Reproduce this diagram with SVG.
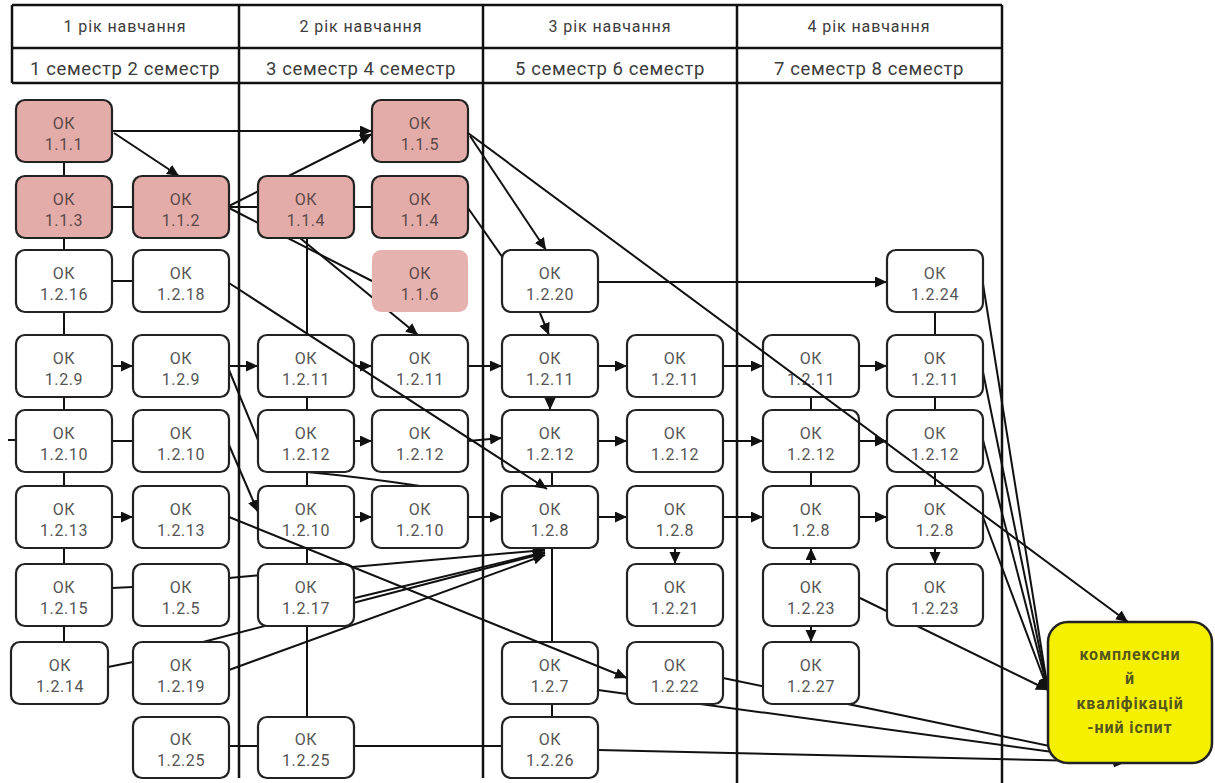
<svg xmlns="http://www.w3.org/2000/svg" width="1215" height="783" viewBox="0 0 1215 783">
<defs>
<marker id="ah" markerUnits="userSpaceOnUse" markerWidth="14" markerHeight="12" refX="12" refY="5.5" orient="auto"><path d="M0,0 L12,5.5 L0,11 z" fill="#111"/></marker>
<style>
.nd rect{fill:#fff;stroke:#222;stroke-width:2.2}
.pk rect{fill:#e3aca9}
.pk2 rect{fill:#e6b2af;stroke:none}
.nd text{font-family:Roboto,"Liberation Sans",sans-serif;font-size:16px;fill:#555;text-anchor:middle;letter-spacing:0.6px}
.pk text,.pk2 text{fill:#5c4848}
.hd line{stroke:#111;stroke-width:2.5}
.hd text{font-family:Roboto,"Liberation Sans",sans-serif;fill:#3c3c3c;text-anchor:middle}
.y1{font-size:16px;letter-spacing:0.9px}
.y2{font-size:18.5px;letter-spacing:0.6px}
.c line,.c path{stroke:#111;stroke-width:2;fill:none}
.c .a{marker-end:url(#ah)}
.ex rect{fill:#f4f000;stroke:#222;stroke-width:2.5}
.ex text{font-family:Roboto,"Liberation Sans",sans-serif;font-size:16px;font-weight:bold;fill:#56561c;text-anchor:middle;letter-spacing:0.9px}
</style>
</defs>
<rect width="1215" height="783" fill="#fff"/>

<g id="header" class="hd">
<line x1="12" y1="5" x2="1002" y2="5"/>
<line x1="12" y1="48" x2="1002" y2="48"/>
<line x1="12" y1="83" x2="1002" y2="83"/>
<line x1="12" y1="5" x2="12" y2="83"/>
<line x1="239" y1="5" x2="239" y2="778"/>
<line x1="483" y1="5" x2="483" y2="778"/>
<line x1="737" y1="5" x2="737" y2="783"/>
<line x1="1002" y1="5" x2="1002" y2="783"/>
<text class="y1" x="125" y="32">1 рік навчання</text>
<text class="y1" x="361" y="32">2 рік навчання</text>
<text class="y1" x="610" y="32">3 рік навчання</text>
<text class="y1" x="869" y="32">4 рік навчання</text>
<text class="y2" x="125" y="75">1 семестр 2 семестр</text>
<text class="y2" x="361" y="75">3 семестр 4 семестр</text>
<text class="y2" x="610" y="75">5 семестр 6 семестр</text>
<text class="y2" x="869" y="75">7 семестр 8 семестр</text>
</g>

<g id="connectors" class="c">
<line x1="64" y1="162" x2="64" y2="642"/>
<line x1="112" y1="207" x2="133" y2="207"/>
<line x1="112" y1="281" x2="133" y2="281"/>
<line x1="112" y1="441" x2="133" y2="441"/>
<line x1="112" y1="588" x2="133" y2="587"/>
<line x1="108" y1="667" x2="133" y2="662"/>
<line x1="8" y1="440" x2="16" y2="440"/>
<line x1="229" y1="207" x2="258" y2="207"/>
<line x1="229" y1="208" x2="372" y2="281"/>
<line x1="354" y1="207" x2="372" y2="207"/>
<line x1="307" y1="238" x2="307" y2="717"/>
<line x1="468" y1="208" x2="503" y2="258"/>
<line x1="229" y1="370" x2="258" y2="440"/>
<path d="M307,472 Q360,477 420,486"/>
<line x1="811" y1="397" x2="811" y2="486"/>
<line x1="935" y1="312" x2="935" y2="486"/>
<line x1="552" y1="472" x2="552" y2="486"/>
<line x1="552" y1="548" x2="552" y2="717"/>
<line x1="229" y1="746" x2="258" y2="746"/>
<line x1="354" y1="746" x2="502" y2="746"/>
<line class="a" x1="113" y1="131" x2="372" y2="131"/>
<line class="a" x1="114" y1="133" x2="179" y2="176"/>
<line class="a" x1="229" y1="206" x2="372" y2="134"/>
<line class="a" x1="470" y1="136" x2="546" y2="250"/>
<line class="a" x1="300" y1="238" x2="418" y2="335"/>
<line class="a" x1="598" y1="282" x2="887" y2="282"/>
<line class="a" x1="540" y1="313" x2="549" y2="335"/>
<line class="a" x1="112" y1="366" x2="133" y2="366"/>
<line class="a" x1="229" y1="366" x2="258" y2="366"/>
<line class="a" x1="354" y1="366" x2="372" y2="366"/>
<line class="a" x1="468" y1="366" x2="502" y2="366"/>
<line class="a" x1="598" y1="366" x2="627" y2="366"/>
<line class="a" x1="723" y1="366" x2="763" y2="366"/>
<line class="a" x1="859" y1="366" x2="887" y2="366"/>
<line class="a" x1="550" y1="397" x2="550" y2="410"/>
<line class="a" x1="229" y1="445" x2="258" y2="512"/>
<line class="a" x1="354" y1="441" x2="372" y2="441"/>
<line class="a" x1="468" y1="441" x2="502" y2="438"/>
<line class="a" x1="598" y1="441" x2="627" y2="441"/>
<line class="a" x1="723" y1="441" x2="763" y2="441"/>
<line class="a" x1="859" y1="441" x2="887" y2="441"/>
<line class="a" x1="112" y1="517" x2="133" y2="517"/>
<line class="a" x1="354" y1="517" x2="372" y2="517"/>
<line class="a" x1="468" y1="517" x2="502" y2="517"/>
<line class="a" x1="598" y1="517" x2="627" y2="517"/>
<line class="a" x1="723" y1="517" x2="763" y2="517"/>
<line class="a" x1="859" y1="517" x2="887" y2="517"/>
<line class="a" x1="229" y1="578" x2="545" y2="550"/>
<line class="a" x1="355" y1="598" x2="545" y2="552"/>
<line class="a" x1="203" y1="642" x2="545" y2="553"/>
<line class="a" x1="229" y1="670" x2="545" y2="555"/>
<line class="a" x1="675" y1="548" x2="675" y2="564"/>
<line class="a" x1="811" y1="564" x2="811" y2="548"/>
<line class="a" x1="811" y1="626" x2="811" y2="642"/>
<line class="a" x1="935" y1="548" x2="935" y2="564"/>
<line class="a" x1="860" y1="598" x2="1048" y2="690"/>
<line class="a" x1="983" y1="284" x2="1048" y2="690"/>
<line class="a" x1="983" y1="372" x2="1048" y2="690"/>
<line class="a" x1="983" y1="440" x2="1048" y2="690"/>
<line class="a" x1="983" y1="517" x2="1048" y2="690"/>
<line class="a" x1="598" y1="690" x2="1126" y2="762"/>
<line class="a" x1="723" y1="678" x2="1126" y2="762"/>
<line class="a" x1="598" y1="750" x2="1126" y2="762"/>
</g>

<g id="n-1-1-1" class="nd pk"><rect x="16" y="100" width="96" height="62" rx="9"/><text x="64" y="128.5">ОК</text><text x="64" y="149.5">1.1.1</text></g>
<g id="n-1-1-5" class="nd pk"><rect x="372" y="100" width="96" height="62" rx="9"/><text x="420" y="128.5">ОК</text><text x="420" y="149.5">1.1.5</text></g>
<g id="n-1-1-3" class="nd pk"><rect x="16" y="176" width="96" height="62" rx="9"/><text x="64" y="204.5">ОК</text><text x="64" y="225.5">1.1.3</text></g>
<g id="n-1-1-2" class="nd pk"><rect x="133" y="176" width="96" height="62" rx="9"/><text x="181" y="204.5">ОК</text><text x="181" y="225.5">1.1.2</text></g>
<g id="n-1-1-4-a" class="nd pk"><rect x="258" y="176" width="96" height="62" rx="9"/><text x="306" y="204.5">ОК</text><text x="306" y="225.5">1.1.4</text></g>
<g id="n-1-1-4-b" class="nd pk"><rect x="372" y="176" width="96" height="62" rx="9"/><text x="420" y="204.5">ОК</text><text x="420" y="225.5">1.1.4</text></g>
<g id="n-1-2-16" class="nd"><rect x="16" y="250" width="96" height="62" rx="9"/><text x="64" y="278.5">ОК</text><text x="64" y="299.5">1.2.16</text></g>
<g id="n-1-2-18" class="nd"><rect x="133" y="250" width="96" height="62" rx="9"/><text x="181" y="278.5">ОК</text><text x="181" y="299.5">1.2.18</text></g>
<g id="n-1-1-6" class="nd pk2"><rect x="372" y="250" width="96" height="62" rx="9"/><text x="420" y="278.5">ОК</text><text x="420" y="299.5">1.1.6</text></g>
<g id="n-1-2-20" class="nd"><rect x="502" y="250" width="96" height="62" rx="9"/><text x="550" y="278.5">ОК</text><text x="550" y="299.5">1.2.20</text></g>
<g id="n-1-2-24" class="nd"><rect x="887" y="250" width="96" height="62" rx="9"/><text x="935" y="278.5">ОК</text><text x="935" y="299.5">1.2.24</text></g>

<g id="n-1-2-9-a" class="nd"><rect x="16" y="335" width="96" height="62" rx="9"/><text x="64" y="363.5">ОК</text><text x="64" y="384.5">1.2.9</text></g>
<g id="n-1-2-9-b" class="nd"><rect x="133" y="335" width="96" height="62" rx="9"/><text x="181" y="363.5">ОК</text><text x="181" y="384.5">1.2.9</text></g>
<g id="n-1-2-11-a" class="nd"><rect x="258" y="335" width="96" height="62" rx="9"/><text x="306" y="363.5">ОК</text><text x="306" y="384.5">1.2.11</text></g>
<g id="n-1-2-11-b" class="nd"><rect x="372" y="335" width="96" height="62" rx="9"/><text x="420" y="363.5">ОК</text><text x="420" y="384.5">1.2.11</text></g>
<g id="n-1-2-11-c" class="nd"><rect x="502" y="335" width="96" height="62" rx="9"/><text x="550" y="363.5">ОК</text><text x="550" y="384.5">1.2.11</text></g>
<g id="n-1-2-11-d" class="nd"><rect x="627" y="335" width="96" height="62" rx="9"/><text x="675" y="363.5">ОК</text><text x="675" y="384.5">1.2.11</text></g>
<g id="n-1-2-11-e" class="nd"><rect x="763" y="335" width="96" height="62" rx="9"/><text x="811" y="363.5">ОК</text><text x="811" y="384.5">1.2.11</text></g>
<g id="n-1-2-11-f" class="nd"><rect x="887" y="335" width="96" height="62" rx="9"/><text x="935" y="363.5">ОК</text><text x="935" y="384.5">1.2.11</text></g>

<g id="n-1-2-10-a" class="nd"><rect x="16" y="410" width="96" height="62" rx="9"/><text x="64" y="438.5">ОК</text><text x="64" y="459.5">1.2.10</text></g>
<g id="n-1-2-10-b" class="nd"><rect x="133" y="410" width="96" height="62" rx="9"/><text x="181" y="438.5">ОК</text><text x="181" y="459.5">1.2.10</text></g>
<g id="n-1-2-12-a" class="nd"><rect x="258" y="410" width="96" height="62" rx="9"/><text x="306" y="438.5">ОК</text><text x="306" y="459.5">1.2.12</text></g>
<g id="n-1-2-12-b" class="nd"><rect x="372" y="410" width="96" height="62" rx="9"/><text x="420" y="438.5">ОК</text><text x="420" y="459.5">1.2.12</text></g>
<g id="n-1-2-12-c" class="nd"><rect x="502" y="410" width="96" height="62" rx="9"/><text x="550" y="438.5">ОК</text><text x="550" y="459.5">1.2.12</text></g>
<g id="n-1-2-12-d" class="nd"><rect x="627" y="410" width="96" height="62" rx="9"/><text x="675" y="438.5">ОК</text><text x="675" y="459.5">1.2.12</text></g>
<g id="n-1-2-12-e" class="nd"><rect x="763" y="410" width="96" height="62" rx="9"/><text x="811" y="438.5">ОК</text><text x="811" y="459.5">1.2.12</text></g>
<g id="n-1-2-12-f" class="nd"><rect x="887" y="410" width="96" height="62" rx="9"/><text x="935" y="438.5">ОК</text><text x="935" y="459.5">1.2.12</text></g>

<g id="n-1-2-13-a" class="nd"><rect x="16" y="486" width="96" height="62" rx="9"/><text x="64" y="514.5">ОК</text><text x="64" y="535.5">1.2.13</text></g>
<g id="n-1-2-13-b" class="nd"><rect x="133" y="486" width="96" height="62" rx="9"/><text x="181" y="514.5">ОК</text><text x="181" y="535.5">1.2.13</text></g>
<g id="n-1-2-10-c" class="nd"><rect x="258" y="486" width="96" height="62" rx="9"/><text x="306" y="514.5">ОК</text><text x="306" y="535.5">1.2.10</text></g>
<g id="n-1-2-10-d" class="nd"><rect x="372" y="486" width="96" height="62" rx="9"/><text x="420" y="514.5">ОК</text><text x="420" y="535.5">1.2.10</text></g>
<g id="n-1-2-8-a" class="nd"><rect x="502" y="486" width="96" height="62" rx="9"/><text x="550" y="514.5">ОК</text><text x="550" y="535.5">1.2.8</text></g>
<g id="n-1-2-8-b" class="nd"><rect x="627" y="486" width="96" height="62" rx="9"/><text x="675" y="514.5">ОК</text><text x="675" y="535.5">1.2.8</text></g>
<g id="n-1-2-8-c" class="nd"><rect x="763" y="486" width="96" height="62" rx="9"/><text x="811" y="514.5">ОК</text><text x="811" y="535.5">1.2.8</text></g>
<g id="n-1-2-8-d" class="nd"><rect x="887" y="486" width="96" height="62" rx="9"/><text x="935" y="514.5">ОК</text><text x="935" y="535.5">1.2.8</text></g>

<g id="n-1-2-15" class="nd"><rect x="16" y="564" width="96" height="62" rx="9"/><text x="64" y="592.5">ОК</text><text x="64" y="613.5">1.2.15</text></g>
<g id="n-1-2-5" class="nd"><rect x="133" y="564" width="96" height="62" rx="9"/><text x="181" y="592.5">ОК</text><text x="181" y="613.5">1.2.5</text></g>
<g id="n-1-2-17" class="nd"><rect x="258" y="564" width="96" height="62" rx="9"/><text x="306" y="592.5">ОК</text><text x="306" y="613.5">1.2.17</text></g>
<g id="n-1-2-21" class="nd"><rect x="627" y="564" width="96" height="62" rx="9"/><text x="675" y="592.5">ОК</text><text x="675" y="613.5">1.2.21</text></g>
<g id="n-1-2-23-a" class="nd"><rect x="763" y="564" width="96" height="62" rx="9"/><text x="811" y="592.5">ОК</text><text x="811" y="613.5">1.2.23</text></g>
<g id="n-1-2-23-b" class="nd"><rect x="887" y="564" width="96" height="62" rx="9"/><text x="935" y="592.5">ОК</text><text x="935" y="613.5">1.2.23</text></g>

<g id="n-1-2-14" class="nd"><rect x="11" y="642" width="97" height="62" rx="9"/><text x="60" y="670.5">ОК</text><text x="60" y="691.5">1.2.14</text></g>
<g id="n-1-2-19" class="nd"><rect x="133" y="642" width="96" height="62" rx="9"/><text x="181" y="670.5">ОК</text><text x="181" y="691.5">1.2.19</text></g>
<g id="n-1-2-7" class="nd"><rect x="502" y="642" width="96" height="62" rx="9"/><text x="550" y="670.5">ОК</text><text x="550" y="691.5">1.2.7</text></g>
<g id="n-1-2-22" class="nd"><rect x="627" y="642" width="96" height="62" rx="9"/><text x="675" y="670.5">ОК</text><text x="675" y="691.5">1.2.22</text></g>
<g id="n-1-2-27" class="nd"><rect x="763" y="642" width="96" height="62" rx="9"/><text x="811" y="670.5">ОК</text><text x="811" y="691.5">1.2.27</text></g>

<g id="n-1-2-25-a" class="nd"><rect x="133" y="717" width="96" height="61" rx="9"/><text x="181" y="744.5">ОК</text><text x="181" y="765.5">1.2.25</text></g>
<g id="n-1-2-25-b" class="nd"><rect x="258" y="717" width="96" height="61" rx="9"/><text x="306" y="744.5">ОК</text><text x="306" y="765.5">1.2.25</text></g>
<g id="n-1-2-26" class="nd"><rect x="502" y="717" width="96" height="61" rx="9"/><text x="550" y="744.5">ОК</text><text x="550" y="765.5">1.2.26</text></g>

<g id="exam" class="ex"><rect x="1048" y="622" width="164" height="141" rx="20"/>
<text x="1130" y="660">комплексни</text>
<text x="1130" y="684">й</text>
<text x="1130" y="709">кваліфікацій</text>
<text x="1130" y="733">-ний іспит</text>
</g>

<g id="connectors-front" class="c">
<line class="a" x1="468" y1="133" x2="1128" y2="622"/>
<line class="a" x1="229" y1="283" x2="547" y2="489"/>
<line class="a" x1="229" y1="517" x2="627" y2="678"/>
</g>
</svg>
